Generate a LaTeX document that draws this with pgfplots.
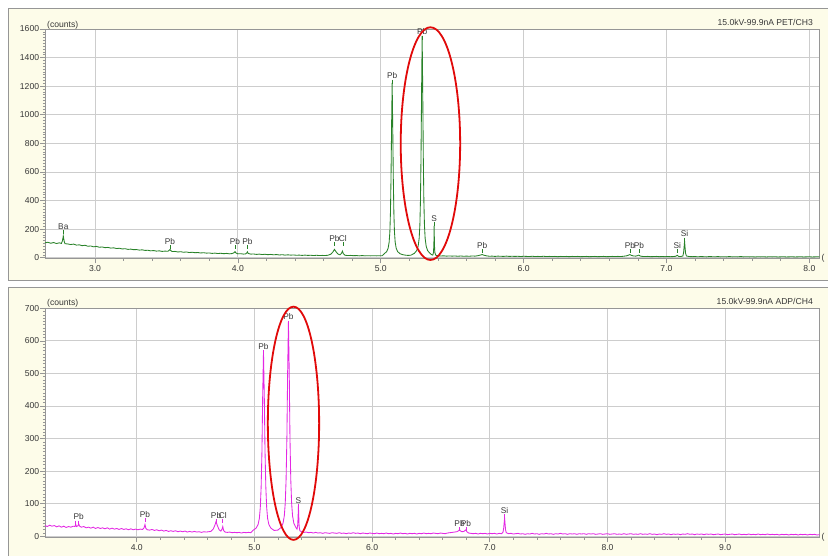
\documentclass[border=0pt]{standalone}
\usepackage{pgfplots}
\pgfplotsset{compat=1.18}
\usepackage{fontspec}
\setmainfont{Liberation Sans}
\definecolor{specgreen}{RGB}{40,130,40}
\definecolor{specmag}{RGB}{228,40,228}
\definecolor{panelbg}{RGB}{253,252,233}
\definecolor{gridc}{RGB}{205,205,205}
\definecolor{framec}{RGB}{150,150,150}
\definecolor{txtc}{RGB}{55,55,55}
\definecolor{ellred}{RGB}{225,10,10}
\pgfplotsset{
  panel/.style={
    scale only axis, width=774pt,
    anchor=south west, clip=false,
    axis line style={framec, line width=0.8pt},
    grid=major, major grid style={gridc, line width=0.8pt},
    tick pos=left,
    tick align=outside, major tick length=5pt, minor tick length=2.5pt,
    every tick/.style={framec, line width=0.6pt},
    tick label style={font=\fontsize{8.6}{10}\selectfont, text=txtc},
    yticklabel style={inner sep=1pt},
    xticklabel style={inner sep=2pt},
    /pgf/number format/assume math mode=true,
    axis background/.style={fill=white},
  },
}
\tikzset{lbl/.style={font=\fontsize{8.3}{9}\selectfont, text=txtc, inner sep=0.6pt, anchor=south}}
\newcommand{\elab}[4]{%
  \draw[#4, line width=0.6pt] (axis cs:#1,#2) -- ++(0pt,-4pt);
  \node[lbl] at (axis cs:#1,#2) {#3};}
\begin{document}
\begin{tikzpicture}
\useasboundingbox (0,0) rectangle (828pt,556pt);
\clip (0,0) rectangle (828pt,556pt);
\fill[white] (0,0) rectangle (828pt,556pt);
% panels
\filldraw[fill=panelbg, draw=framec, line width=0.8pt] (8pt,{556pt-280pt}) rectangle (830pt,{556pt-8pt});
\filldraw[fill=panelbg, draw=framec, line width=0.8pt] (8pt,-2pt) rectangle (830pt,{556pt-287pt});

% ---------------- TOP PANEL ----------------
\begin{axis}[panel,
  at={(45.3pt,297.5pt)}, height=229.5pt,
  xmin=2.652, xmax=8.07, ymin=-5.6, ymax=1600,
  xtick={3,4,5,6,7,8}, minor x tick num=4,
  ytick={0,200,...,1600}, minor y tick num=9,
  xticklabel style={/pgf/number format/.cd, fixed, fixed zerofill, precision=1},
  yticklabel style={/pgf/number format/.cd, fixed, 1000 sep={}},
]
\addplot[specgreen, line width=0.85pt] coordinates {
(2.65,104)(2.67,108)(2.69,101)(2.71,106)(2.73,99)(2.75,104)(2.765,100)(2.772,118)(2.778,152)(2.784,115)
(2.79,98)(2.81,96)(2.83,92)(2.85,95)(2.87,88)(2.89,90)(2.91,84)(2.93,87)(2.95,80)(2.97,82)
(2.99,76)(3.01,79)(3.03,73)(3.05,75)(3.07,70)(3.09,72)(3.11,67)(3.13,69)(3.15,64)(3.17,66)
(3.19,61)(3.21,63)(3.23,58)(3.25,60)(3.27,56)(3.29,57)(3.31,53)(3.33,55)(3.35,51)(3.37,52)
(3.39,48)(3.41,50)(3.43,46)(3.45,48)(3.47,44)(3.49,46)(3.51,45)(3.52,52)(3.525,58)(3.53,50)
(3.54,43)(3.56,44)(3.58,40)(3.60,42)(3.62,38)(3.64,40)(3.66,36)(3.68,38)(3.70,35)(3.72,36)
(3.74,33)(3.76,35)(3.78,32)(3.80,33)(3.82,30)(3.84,32)(3.86,29)(3.88,31)(3.90,28)(3.92,30)
(3.94,27)(3.96,29)(3.975,36)(3.98,43)(3.985,34)(4.00,27)(4.02,28)(4.04,25)(4.055,27)(4.062,33)
(4.067,41)(4.072,30)(4.09,25)(4.11,26)(4.13,23)(4.15,25)(4.17,22)(4.19,24)(4.21,21)(4.23,23)
(4.25,20)(4.27,22)(4.29,19)(4.31,21)(4.33,18)(4.35,20)(4.37,18)(4.39,19)(4.41,17)(4.43,18)
(4.45,16)(4.47,18)(4.49,16)(4.51,17)(4.53,15)(4.55,17)(4.57,15)(4.59,16)(4.61,15)(4.63,17)
(4.65,24)(4.665,40)(4.676,58)(4.687,42)(4.70,26)(4.715,20)(4.725,30)(4.732,46)(4.738,28)(4.75,17)
(4.77,15)(4.79,16)(4.81,14)(4.83,15)(4.85,13)(4.87,15)(4.89,13)(4.91,14)(4.93,13)(4.95,14)
(4.97,13)(4.99,14)(5.01,14)(5.025,28)(5.042,43)(5.052,67)(5.059,110)(5.064,182)(5.068,315)(5.072,558)
(5.076,921)(5.080,1223)(5.084,921)(5.088,558)(5.092,315)(5.096,182)(5.101,110)(5.108,67)(5.118,43)(5.135,28)
(5.15,22)(5.17,18)(5.19,16)(5.21,17)(5.235,30)(5.252,50)(5.262,81)(5.269,135)(5.274,228)(5.278,397)
(5.282,705)(5.286,1167)(5.290,1552)(5.294,1167)(5.298,705)(5.302,397)(5.306,228)(5.311,135)(5.318,81)(5.328,50)
(5.345,30)(5.355,22)(5.364,18)(5.369,35)(5.372,90)(5.374,222)(5.376,90)(5.379,35)(5.385,17)(5.40,14)
(5.42,12)(5.44,13)(5.46,11)(5.48,12)(5.50,11)(5.52,12)(5.54,10)(5.56,12)(5.58,10)(5.60,11)
(5.62,10)(5.64,12)(5.66,11)(5.68,14)(5.70,19)(5.71,22)(5.72,18)(5.74,13)(5.76,10)(5.78,11)
(5.80,9)(5.82,11)(5.84,10)(5.86,9)(5.88,11)(5.90,9)(5.92,10)(5.94,9)(5.96,10)(5.98,8)
(6.00,10)(6.02,9)(6.04,8)(6.06,10)(6.08,8)(6.10,9)(6.12,8)(6.14,10)(6.16,8)(6.18,9)
(6.20,8)(6.22,9)(6.24,7)(6.26,9)(6.28,8)(6.30,9)(6.32,7)(6.34,9)(6.36,8)(6.38,9)
(6.40,7)(6.42,8)(6.44,9)(6.46,7)(6.48,8)(6.50,9)(6.52,7)(6.54,8)(6.56,9)(6.58,7)
(6.60,8)(6.62,9)(6.64,8)(6.66,9)(6.68,8)(6.70,10)(6.72,13)(6.735,18)(6.744,22)(6.755,16)
(6.77,12)(6.785,11)(6.80,15)(6.807,18)(6.815,12)(6.83,9)(6.85,8)(6.87,9)(6.89,7)(6.91,8)
(6.93,9)(6.95,7)(6.97,8)(6.99,7)(7.01,8)(7.03,7)(7.05,8)(7.065,10)(7.076,17)(7.085,9)
(7.10,8)(7.115,12)(7.12,35)(7.124,80)(7.127,115)(7.130,75)(7.134,30)(7.14,12)(7.16,8)(7.18,7)
(7.20,8)(7.22,6)(7.24,8)(7.26,7)(7.28,6)(7.30,8)(7.32,7)(7.34,6)(7.36,8)(7.38,6)
(7.40,7)(7.42,6)(7.44,8)(7.46,6)(7.48,7)(7.50,6)(7.52,8)(7.54,6)(7.56,7)(7.58,6)
(7.60,7)(7.62,5)(7.64,7)(7.66,6)(7.68,7)(7.70,5)(7.72,7)(7.74,6)(7.76,7)(7.78,5)
(7.80,6)(7.82,7)(7.84,5)(7.86,6)(7.88,7)(7.90,5)(7.92,6)(7.94,7)(7.96,5)(7.98,6)
(8.00,7)(8.02,5)(8.04,6)(8.06,7)(8.07,6)
};
\elab{2.778}{191}{Ba}{specgreen}
\elab{3.525}{88}{Pb}{specgreen}
\elab{3.980}{88}{Pb}{specgreen}
\elab{4.067}{88}{Pb}{specgreen}
\elab{4.676}{107}{Pb}{specgreen}
\elab{4.735}{107}{Cl}{specgreen}
\elab{5.080}{1246}{Pb}{specgreen}
\elab{5.290}{1552}{Pb}{specgreen}
\elab{5.374}{247}{S}{specgreen}
\elab{5.710}{58}{Pb}{specgreen}
\elab{6.744}{58}{Pb}{specgreen}
\elab{6.807}{58}{Pb}{specgreen}
\elab{7.076}{58}{Si}{specgreen}
\elab{7.127}{140}{Si}{specgreen}
\draw[ellred, line width=1.8pt] (axis cs:5.348,798) ellipse [x radius=0.208, y radius=814];
\end{axis}

% ---------------- BOTTOM PANEL ----------------
\begin{axis}[panel,
  at={(45.3pt,18.5pt)}, height=229.2pt,
  xmin=3.223, xmax=9.80, ymin=-3.7, ymax=700,
  xtick={4,5,6,7,8,9}, minor x tick num=4,
  ytick={0,100,...,700}, minor y tick num=9,
  xticklabel style={/pgf/number format/.cd, fixed, fixed zerofill, precision=1},
  yticklabel style={/pgf/number format/.cd, fixed, 1000 sep={}},
]
\addplot[specmag, line width=0.85pt] coordinates {
(3.22,33)(3.24,30)(3.26,34)(3.28,31)(3.30,33)(3.32,29)(3.34,32)(3.36,28)(3.38,31)(3.40,27)
(3.42,30)(3.44,28)(3.46,31)(3.475,30)(3.482,36)(3.488,30)(3.50,32)(3.507,38)(3.515,31)(3.53,28)
(3.55,30)(3.57,26)(3.59,28)(3.61,25)(3.63,28)(3.65,24)(3.67,27)(3.69,24)(3.71,26)(3.73,23)
(3.75,26)(3.77,22)(3.79,25)(3.81,22)(3.83,24)(3.85,21)(3.87,24)(3.89,21)(3.91,23)(3.93,20)
(3.95,23)(3.97,20)(3.99,22)(4.01,20)(4.03,22)(4.05,21)(4.062,26)(4.07,36)(4.078,24)(4.09,20)
(4.11,19)(4.13,21)(4.15,18)(4.17,20)(4.19,17)(4.21,19)(4.23,16)(4.25,18)(4.27,15)(4.29,17)
(4.31,15)(4.33,17)(4.35,14)(4.37,16)(4.39,14)(4.41,16)(4.43,13)(4.45,15)(4.47,13)(4.49,15)
(4.51,13)(4.53,14)(4.55,12)(4.57,14)(4.59,13)(4.61,14)(4.63,15)(4.65,22)(4.665,35)(4.674,45)
(4.685,33)(4.70,20)(4.715,16)(4.725,22)(4.731,30)(4.738,18)(4.75,13)(4.77,12)(4.79,13)(4.81,11)
(4.83,12)(4.85,11)(4.87,12)(4.89,10)(4.91,12)(4.93,11)(4.95,12)(4.97,11)(4.987,18)(5.014,25)
(5.031,36)(5.042,55)(5.050,89)(5.057,150)(5.064,261)(5.070,427)(5.077,566)(5.084,427)(5.090,261)(5.097,150)
(5.104,89)(5.112,55)(5.123,36)(5.140,25)(5.167,18)(5.199,19)(5.226,27)(5.243,40)(5.254,63)(5.262,102)
(5.269,173)(5.276,303)(5.282,497)(5.289,659)(5.296,497)(5.302,303)(5.309,173)(5.316,102)(5.324,63)(5.335,40)
(5.352,27)(5.362,22)(5.368,35)(5.371,60)(5.374,93)(5.377,60)(5.380,30)(5.386,17)(5.40,14)(5.42,12)
(5.44,13)(5.46,11)(5.48,12)(5.50,10)(5.52,12)(5.54,10)(5.56,11)(5.58,9)(5.60,11)(5.62,10)
(5.64,9)(5.66,11)(5.68,10)(5.70,9)(5.72,11)(5.74,9)(5.76,10)(5.78,8)(5.80,10)(5.82,9)
(5.84,11)(5.86,9)(5.88,10)(5.90,8)(5.92,10)(5.94,9)(5.96,8)(5.98,10)(6.00,9)(6.02,8)
(6.04,10)(6.06,8)(6.08,9)(6.10,8)(6.12,10)(6.14,8)(6.16,9)(6.18,7)(6.20,9)(6.22,8)
(6.24,10)(6.26,8)(6.28,9)(6.30,7)(6.32,9)(6.34,8)(6.36,9)(6.38,7)(6.40,9)(6.42,8)
(6.44,10)(6.46,8)(6.48,9)(6.50,8)(6.52,10)(6.54,9)(6.56,8)(6.58,10)(6.60,9)(6.62,8)
(6.64,10)(6.66,11)(6.68,12)(6.70,13)(6.72,14)(6.735,17)(6.743,20)(6.752,16)(6.765,14)(6.78,15)
(6.79,18)(6.797,20)(6.805,14)(6.82,10)(6.84,9)(6.86,8)(6.88,9)(6.90,7)(6.92,9)(6.94,8)
(6.96,9)(6.98,7)(7.00,9)(7.02,8)(7.04,9)(7.06,7)(7.08,9)(7.10,8)(7.112,12)(7.118,25)
(7.123,45)(7.126,57)(7.129,42)(7.134,20)(7.14,11)(7.16,8)(7.18,9)(7.20,7)(7.22,8)(7.24,9)
(7.26,7)(7.28,8)(7.30,6)(7.32,8)(7.34,7)(7.36,9)(7.38,7)(7.40,8)(7.42,6)(7.44,8)
(7.46,7)(7.48,9)(7.50,7)(7.52,8)(7.54,6)(7.56,8)(7.58,7)(7.60,9)(7.62,7)(7.64,8)
(7.66,6)(7.68,8)(7.70,7)(7.72,8)(7.74,6)(7.76,8)(7.78,7)(7.80,8)(7.82,6)(7.84,8)
(7.86,7)(7.88,8)(7.90,6)(7.92,7)(7.94,8)(7.96,6)(7.98,7)(8.00,8)(8.02,6)(8.04,7)
(8.06,8)(8.08,6)(8.10,7)(8.12,6)(8.14,8)(8.16,6)(8.18,7)(8.20,8)(8.22,6)(8.24,7)
(8.26,6)(8.28,8)(8.30,6)(8.32,7)(8.34,6)(8.36,8)(8.38,6)(8.40,7)(8.42,5)(8.44,7)
(8.46,6)(8.48,8)(8.50,6)(8.52,7)(8.54,5)(8.56,7)(8.58,6)(8.60,7)(8.62,5)(8.64,7)
(8.66,6)(8.68,8)(8.70,6)(8.72,7)(8.74,5)(8.76,7)(8.78,6)(8.80,7)(8.82,5)(8.84,7)
(8.86,6)(8.88,7)(8.90,5)(8.92,6)(8.94,7)(8.96,5)(8.98,6)(9.00,7)(9.02,5)(9.04,6)
(9.06,7)(9.08,5)(9.10,6)(9.12,7)(9.14,5)(9.16,6)(9.18,5)(9.20,7)(9.22,5)(9.24,6)
(9.26,5)(9.28,7)(9.30,5)(9.32,6)(9.34,5)(9.36,7)(9.38,5)(9.40,6)(9.42,5)(9.44,6)
(9.46,4)(9.48,6)(9.50,5)(9.52,6)(9.54,4)(9.56,6)(9.58,5)(9.60,6)(9.62,4)(9.64,6)
(9.66,5)(9.68,6)(9.70,4)(9.72,6)(9.74,5)(9.76,6)(9.78,4)(9.80,5)
};
\elab{3.482}{48}{}{specmag}
\elab{3.507}{48}{Pb}{specmag}
\elab{4.070}{55}{Pb}{specmag}
\elab{4.674}{52}{Pb}{specmag}
\elab{4.731}{52}{Cl}{specmag}
\elab{5.077}{571}{Pb}{specmag}
\elab{5.289}{662}{Pb}{specmag}
\elab{5.374}{99}{S}{specmag}
\elab{6.743}{28}{Pb}{specmag}
\elab{6.797}{28}{Pb}{specmag}
\elab{7.126}{67}{Si}{specmag}
\draw[ellred, line width=1.8pt] (axis cs:5.332,347) ellipse [x radius=0.218, y radius=358];
\end{axis}

% titles
\node[anchor=base west, font=\fontsize{8.6}{10}\selectfont, text=txtc, inner sep=0pt] at (47pt,528.5pt) {(counts)};
\node[anchor=base east, font=\fontsize{8.6}{10}\selectfont, text=txtc, inner sep=0pt] at (813pt,530pt) {15.0kV-99.9nA PET/CH3};
\node[anchor=base west, font=\fontsize{8.6}{10}\selectfont, text=txtc, inner sep=0pt] at (47pt,250pt) {(counts)};
\node[anchor=base east, font=\fontsize{8.6}{10}\selectfont, text=txtc, inner sep=0pt] at (813pt,251.5pt) {15.0kV-99.9nA ADP/CH4};
\node[anchor=west, font=\fontsize{8.6}{10}\selectfont, text=txtc, inner sep=0pt] at (821.5pt,298pt) {(};
\node[anchor=west, font=\fontsize{8.6}{10}\selectfont, text=txtc, inner sep=0pt] at (821.5pt,19pt) {(};
\end{tikzpicture}
\end{document}
